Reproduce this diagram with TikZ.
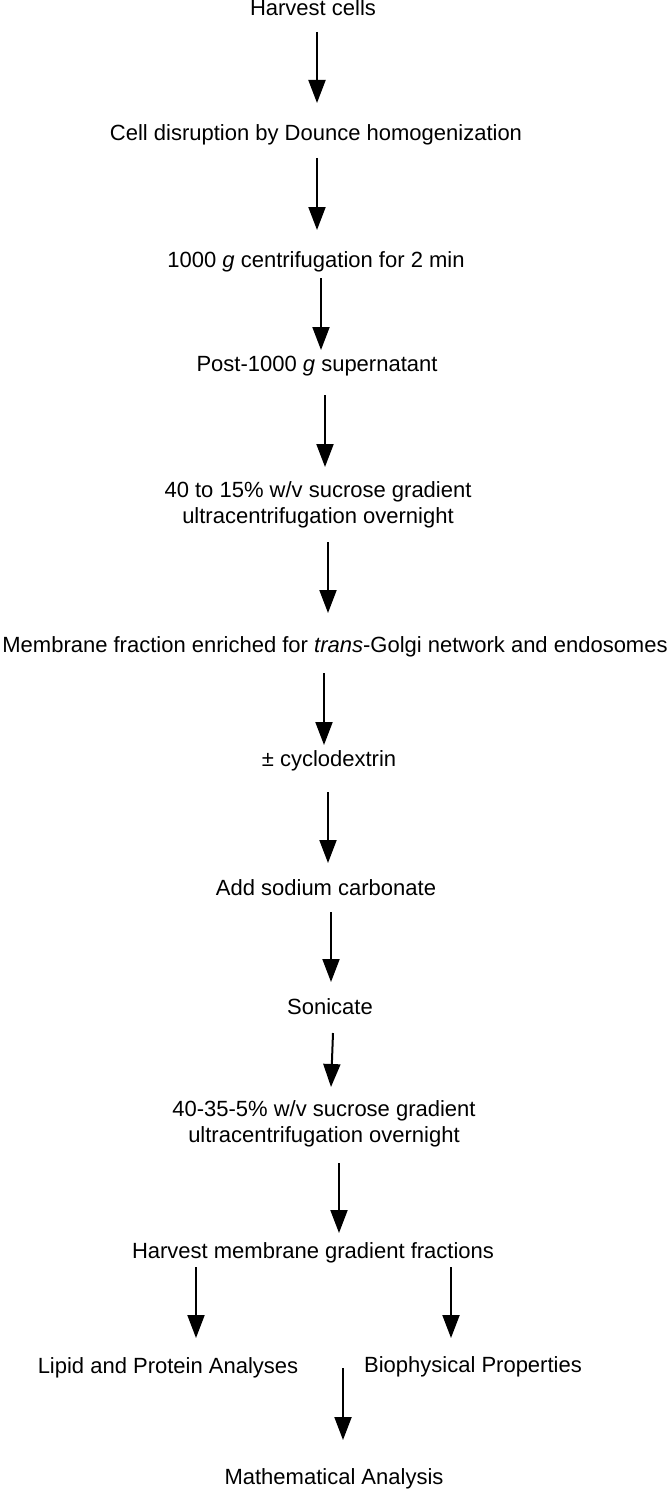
\documentclass[tikz,border=0pt]{standalone}
\usepackage{fontspec}
\setmainfont{Liberation Sans}
\usetikzlibrary{arrows.meta}
\tikzset{
  lbl/.style={inner sep=0pt, anchor=base, align=center, font=\fontsize{22}{26}\selectfont},
  flow/.style={line width=2pt, -{Triangle[width=17pt,length=23pt]}}
}
\begin{document}
\begin{tikzpicture}[x=1pt,y=-1pt]
\useasboundingbox (0,0) rectangle (670,1490);
\node[lbl] (t1) at (313,16) {Harvest cells};
\node[lbl] (t2) at (316,141) {Cell disruption by Dounce homogenization};
\node[lbl] (t3) at (316,267) {1000 \textit{g} centrifugation for 2 min};
\node[lbl] (t4) at (317,371) {Post-1000 \textit{g} supernatant};
\node[lbl] (t5) at (318,523) {40 to 15\% w/v sucrose gradient\\ultracentrifugation overnight};
\node[lbl] (t6) at (335,652) {Membrane fraction enriched for \textit{trans}-Golgi network and endosomes};
\node[lbl] (t7) at (329,766) {± cyclodextrin};
\node[lbl] (t8) at (326,895) {Add sodium carbonate};
\node[lbl] (t9) at (330,1014) {Sonicate};
\node[lbl] (t10) at (324,1142) {40-35-5\% w/v sucrose gradient\\ultracentrifugation overnight};
\node[lbl] (t11) at (313,1258) {Harvest membrane gradient fractions};
\node[lbl] (t12) at (168,1373) {Lipid and Protein Analyses};
\node[lbl] (t13) at (473,1372) {Biophysical Properties};
\node[lbl] (t14) at (334,1484) {Mathematical Analysis};
% arrow end points
\coordinate (a1s) at (317,32);   \coordinate (a1e) at (317,103);
\coordinate (a2s) at (317,158);  \coordinate (a2e) at (317,230);
\coordinate (a3s) at (321,278);  \coordinate (a3e) at (321,350);
\coordinate (a4s) at (325,395);  \coordinate (a4e) at (325,467);
\coordinate (a5s) at (328,542);  \coordinate (a5e) at (328,613);
\coordinate (a6s) at (324,673);  \coordinate (a6e) at (324,745);
\coordinate (a7s) at (328,792);  \coordinate (a7e) at (328,863);
\coordinate (a8s) at (331,912);  \coordinate (a8e) at (331,982);
\coordinate (a9s) at (333,1033); \coordinate (a9e) at (331,1087);
\coordinate (a10s) at (339,1163); \coordinate (a10e) at (339,1233);
\coordinate (a11s) at (196,1267); \coordinate (a11e) at (196,1338);
\coordinate (a12s) at (451,1267); \coordinate (a12e) at (451,1338);
\coordinate (a13s) at (343,1368); \coordinate (a13e) at (343,1440);
\foreach \i in {1,...,13} \draw[flow] (a\i s) -- (a\i e);
\end{tikzpicture}
\end{document}
